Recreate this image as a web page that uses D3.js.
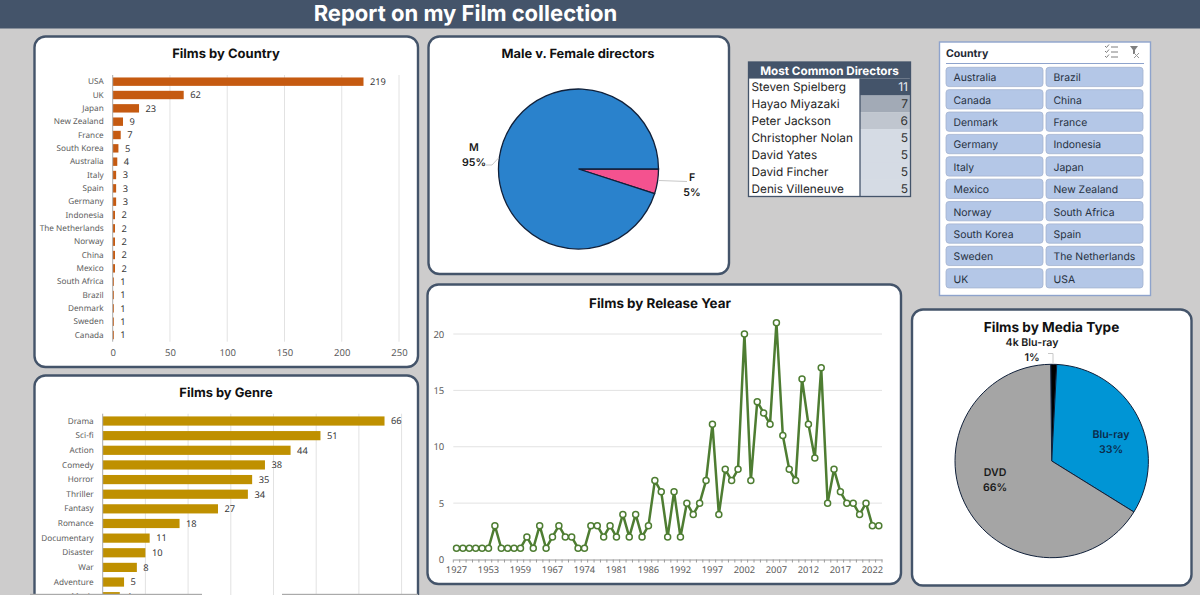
<!DOCTYPE html>
<html><head><meta charset="utf-8">
<script src="https://cdn.jsdelivr.net/npm/d3@7"></script>
<style>
html,body{margin:0;padding:0;background:#cdcccc;overflow:hidden}
svg{display:block;font-family:"Inter","Open Sans",sans-serif}
text{text-rendering:geometricPrecision}
</style></head><body>
<svg id="c" width="1200" height="595"></svg>
<script>
const pageTitle = "Report on my Film collection";
const countryNames = ["USA","UK","Japan","New Zealand","France","South Korea","Australia","Italy","Spain","Germany","Indonesia","The Netherlands","Norway","China","Mexico","South Africa","Brazil","Denmark","Sweden","Canada"];
const countryValues = [219,62,23,9,7,5,4,3,3,3,2,2,2,2,2,1,1,1,1,1];
const countryTicks = [0,50,100,150,200,250];
const genreNames = ["Drama","Sci-fi","Action","Comedy","Horror","Thriller","Fantasy","Romance","Documentary","Disaster","War","Adventure","Music"];
const genreValues = [66,51,44,38,35,34,27,18,11,10,8,5,4];
const genreTicks = [0,10,20,30,40,50,60,70];
const releaseYears = [1927,1931,1939,1940,1942,1953,1954,1955,1956,1957,1959,1960,1961,1963,1964,1967,1968,1969,1971,1972,1974,1975,1976,1977,1979,1981,1982,1983,1984,1985,1986,1987,1988,1989,1990,1992,1993,1994,1995,1996,1997,1998,1999,2000,2001,2002,2003,2004,2005,2006,2007,2008,2009,2010,2011,2012,2013,2014,2015,2016,2017,2018,2019,2020,2021,2022,2023];
const releaseCounts = [1,1,1,1,1,1,3,1,1,1,1,2,1,3,1,2,3,2,2,1,1,3,3,2,3,2,4,2,4,2,3,7,6,2,6,2,5,4,5,7,12,4,8,7,8,20,7,14,13,12,21,11,8,7,16,12,9,17,5,8,6,5,5,4,5,3,3];
const releaseTicks = [0,5,10,15,20];
const genderNames = ["F","M"];
const genderValues = [5,95];
const genderColors = ["#f4528f","#2a82cc"];
const mediaNames = ["4k Blu-ray","Blu-ray","DVD"];
const mediaValues = [1,33,66];
const mediaColors = ["#000000","#0095d5","#a5a5a5"];
const directorNames = ["Steven Spielberg","Hayao Miyazaki","Peter Jackson","Christopher Nolan","David Yates","David Fincher","Denis Villeneuve"];
const directorCounts = [11,7,6,5,5,5,5];
const slicerItems = ["Australia","Brazil","Canada","China","Denmark","France","Germany","Indonesia","Italy","Japan","Mexico","New Zealand","Norway","South Africa","South Korea","Spain","Sweden","The Netherlands","UK","USA"];

const svg = d3.select("#c");
const PANEL = "#44546a", LABEL = "#5c5c5c", VALUE = "#3a3a3a", GRID = "#e2e2e2";
const SMALL = '"Noto Sans",sans-serif';

svg.append("rect").attr("width",1200).attr("height",28.5).attr("fill",PANEL);
svg.append("text").attr("x",465.5).attr("y",20.5).attr("text-anchor","middle").attr("fill","#fff")
  .attr("font-size",22).attr("font-weight",700).text(pageTitle);

function panel(x0,y0,x1,y1,title,tx,ty,fs){
  svg.append("rect").attr("x",x0).attr("y",y0).attr("width",x1-x0).attr("height",y1-y0)
    .attr("rx",11).attr("fill","#fff").attr("stroke",PANEL).attr("stroke-width",2.4);
  svg.append("text").attr("x",tx).attr("y",ty).attr("text-anchor","middle").attr("fill","#111")
    .attr("font-size",fs).attr("font-weight",700).text(title);
}
panel(34.5,36.5,418,367,"Films by Country",226,58,13);
panel(34.5,375.5,418,640,"Films by Genre",226,397,12.9);
panel(428.5,36.5,729,274,"Male v. Female directors",578,58,12.9);
panel(427.5,284.5,901,584,"Films by Release Year",660,308,13.4);
panel(912,309.5,1191.5,585.5,"Films by Media Type",1051.5,332,13.6);

function hbars(names,values,ticks,x0,x1,top,bottom,color,barH,tickY){
  const x = d3.scaleLinear().domain([0,ticks[ticks.length-1]]).range([x0,x1]);
  const y = d3.scaleBand().domain(names).range([top,bottom]);
  const g = svg.append("g");
  g.selectAll("line.g").data(ticks.slice(1)).join("line")
    .attr("x1",d=>x(d)).attr("x2",d=>x(d)).attr("y1",top).attr("y2",bottom)
    .attr("stroke",GRID).attr("stroke-width",1);
  g.selectAll("rect").data(names).join("rect")
    .attr("x",x0).attr("y",d=>y(d)+(y.bandwidth()-barH)/2)
    .attr("width",(d,i)=>x(values[i])-x0).attr("height",barH).attr("fill",color);
  g.append("line").attr("x1",x0).attr("x2",x0).attr("y1",top).attr("y2",bottom).attr("stroke","#aaa");
  const ya = g.append("g").attr("transform",`translate(${x0},0)`).call(d3.axisLeft(y).tickSize(0).tickPadding(9));
  ya.select(".domain").remove();
  ya.selectAll("text").attr("fill",LABEL).attr("font-size",8.2).attr("font-family",SMALL);
  g.selectAll("text.v").data(names).join("text").attr("class","v")
    .attr("x",(d,i)=>x(values[i])+6.5).attr("y",d=>y(d)+y.bandwidth()/2+3.3)
    .attr("fill",VALUE).attr("font-size",9.3).attr("font-family",SMALL).text((d,i)=>values[i]);
  if(tickY){
    const xa = g.append("g").attr("transform",`translate(0,${tickY})`).call(d3.axisBottom(x).tickValues(ticks).tickSize(0));
    xa.select(".domain").remove();
    xa.selectAll("text").attr("fill",LABEL).attr("font-size",9.5).attr("font-family",SMALL);
  }
}
hbars(countryNames,countryValues,countryTicks,112.7,399,75,341.7,"#c55a11",8.4,346);
hbars(genreNames,genreValues,genreTicks,102.7,401.6,413.7,604,"#bf9000",9.2,null);

/* Line chart */
{
  const x = d3.scaleBand().domain(releaseYears).range([453.3,882]);
  const y = d3.scaleLinear().domain([0,20]).range([559.5,334]);
  const cx = d=>x(d)+x.bandwidth()/2;
  const g = svg.append("g");
  g.selectAll("line.g").data(releaseTicks.slice(1)).join("line")
    .attr("x1",453.3).attr("x2",882).attr("y1",d=>y(d)).attr("y2",d=>y(d)).attr("stroke",GRID);
  const ya = g.append("g").attr("transform","translate(453.3,0)").call(d3.axisLeft(y).tickValues(releaseTicks).tickSize(0).tickPadding(9));
  ya.select(".domain").remove();
  ya.selectAll("text").attr("fill",LABEL).attr("font-size",9.5).attr("font-family",SMALL);
  const xa = g.append("g").attr("transform","translate(0,559.5)")
    .call(d3.axisBottom(x).tickValues(releaseYears.filter((d,i)=>i%5===0)).tickSize(0).tickPadding(7));
  xa.select(".domain").attr("stroke","#9a9a9a");
  xa.selectAll("text").attr("fill",LABEL).attr("font-size",9.3).attr("font-family",SMALL);
  g.selectAll("line.t").data(releaseYears).join("line").attr("class","t")
    .attr("x1",d=>x(d)).attr("x2",d=>x(d)).attr("y1",559.5).attr("y2",562.5).attr("stroke","#9a9a9a");
  g.append("line").attr("x1",882).attr("x2",882).attr("y1",559.5).attr("y2",562.5).attr("stroke","#9a9a9a");
  const line = d3.line().x(d=>cx(d[0])).y(d=>y(d[1]));
  const pts = releaseYears.map((d,i)=>[d,releaseCounts[i]]);
  g.append("path").attr("d",line(pts)).attr("fill","none").attr("stroke","#4e7d32").attr("stroke-width",2.5).attr("stroke-linejoin","round");
  g.selectAll("circle").data(pts).join("circle").attr("cx",d=>cx(d[0])).attr("cy",d=>y(d[1])).attr("r",3)
    .attr("fill","#fff").attr("stroke","#4e7d32").attr("stroke-width",1.5);
}

/* Pies */
function pie(names,values,colors,cx,cy,r,start,sw){
  const arcs = d3.pie().sort(null).startAngle(start).endAngle(start+2*Math.PI)(values);
  const arc = d3.arc().innerRadius(0).outerRadius(r);
  const g = svg.append("g").attr("transform",`translate(${cx},${cy})`);
  g.selectAll("path").data(arcs).join("path").attr("d",arc).attr("fill",(d,i)=>colors[i]).attr("stroke","#10203a").attr("stroke-width",sw);
  return arcs;
}
function label(x,y,a,b,fill){
  const t = svg.append("text").attr("text-anchor","middle").attr("font-size",10.6).attr("font-weight",600).attr("fill",fill||"#1a1a1a");
  t.append("tspan").attr("x",x).attr("y",y).text(a);
  t.append("tspan").attr("x",x).attr("y",y+14.5).text(b);
}
pie(genderNames,genderValues,genderColors,578.5,169,80,Math.PI/2,1.3);
label(474,151,genderNames[1],genderValues[1]+"%");
label(692,181,genderNames[0],genderValues[0]+"%");
const leader = d=>svg.append("path").attr("d",d3.line()(d)).attr("fill","none").attr("stroke","#c8c8c8").attr("stroke-width",1);
leader([[486,165],[492,165],[498.5,158]]);
leader([[659,180.5],[687,181.5]]);
pie(mediaNames,mediaValues,mediaColors,1051.7,461,96.7,-0.6*Math.PI/180,1);
label(1032,346,mediaNames[0],mediaValues[0]+"%");
label(1111,438,mediaNames[1],mediaValues[1]+"%","#0c2a4a");
label(995,476,mediaNames[2],mediaValues[2]+"%");
leader([[1048,353.5],[1053,353.5],[1053,363]]);

/* Directors table */
{
  const x0=748.5,x1=910.5,top=62,headH=16.5,mid=860;
  const y = d3.scaleBand().domain(directorNames).range([top+headH,196.5]);
  const col = d3.scaleOrdinal().domain([11,7,6,5]).range(["#44546a","#a2aab6","#c0c6cf","#d5dbe4"]);
  svg.append("rect").attr("x",x0).attr("y",y.range()[0]).attr("width",x1-x0).attr("height",y.range()[1]-y.range()[0]).attr("fill","#fff");
  svg.selectAll("rect.d").data(directorNames).join("rect").attr("class","d").attr("x",mid).attr("width",x1-mid)
    .attr("y",d=>y(d)).attr("height",y.bandwidth()+.3).attr("fill",(d,i)=>col(directorCounts[i]));
  svg.append("rect").attr("x",x0).attr("y",top).attr("width",x1-x0).attr("height",headH).attr("fill",PANEL);
  svg.append("text").attr("x",(x0+x1)/2).attr("y",top+12.6).attr("text-anchor","middle").attr("fill","#fff")
    .attr("font-size",11.7).attr("font-weight",700).text("Most Common Directors");
  svg.selectAll("text.n").data(directorNames).join("text").attr("class","n").attr("x",x0+3).attr("y",d=>y(d)+y.bandwidth()/2+4.5)
    .attr("font-size",11.8).attr("fill","#1e1e1e").text(d=>d);
  svg.selectAll("text.c").data(directorNames).join("text").attr("class","c").attr("x",x1-2.5).attr("y",d=>y(d)+y.bandwidth()/2+4.5)
    .attr("text-anchor","end").attr("font-size",12).attr("fill",(d,i)=>directorCounts[i]===11?"#e8ecf2":"#333").text((d,i)=>directorCounts[i]);
  svg.append("rect").attr("x",x0).attr("y",top).attr("width",x1-x0).attr("height",196.5-top).attr("fill","none").attr("stroke",PANEL).attr("stroke-width",1.3);
  svg.append("line").attr("x1",mid).attr("x2",mid).attr("y1",top+headH).attr("y2",196.5).attr("stroke",PANEL).attr("stroke-width",1.3);
}

/* Slicer */
{
  svg.append("rect").attr("x",939.5).attr("y",42).attr("width",211).attr("height",253.5).attr("fill","#fff").attr("stroke","#8ea3cc").attr("stroke-width",1.4);
  svg.append("text").attr("x",946).attr("y",57).attr("font-size",10.6).attr("font-weight",700).attr("fill","#1f2a36").text("Country");
  svg.append("line").attr("x1",946).attr("x2",1144).attr("y1",63.5).attr("y2",63.5).attr("stroke","#8ea3cc").attr("stroke-width",1);
  const col = d3.scaleBand().domain([0,1]).range([946,1146]);
  const rows = d3.range(Math.ceil(slicerItems.length/2));
  const row = d3.scaleBand().domain(rows).range([67.3,291]);
  const bs = svg.selectAll("g.b").data(slicerItems).join("g").attr("class","b")
    .attr("transform",(d,i)=>`translate(${col(i%2)},${row(Math.floor(i/2))})`);
  bs.append("rect").attr("width",97).attr("height",19.3).attr("rx",3).attr("fill","#b4c7e7").attr("stroke","#a3b3cf").attr("stroke-width",.8);
  bs.append("text").attr("x",7.5).attr("y",14).attr("font-size",10.4).attr("fill","#26313f").text(d=>d);
  /* icons */
  const ic = svg.append("g").attr("stroke","#7f7f7f").attr("fill","none").attr("stroke-width",1);
  [47,52,57].forEach(yy=>{
    ic.append("line").attr("x1",1111).attr("x2",1118).attr("y1",yy).attr("y2",yy);
    ic.append("path").attr("d",`M1105 ${yy-1}l1.5 1.5l2.5 -3`);
  });
  svg.append("path").attr("d","M1130 46h8l-3 4v4h-2v-4z").attr("fill","#7f7f7f");
  svg.append("path").attr("d","M1134 53l5 5M1139 53l-5 5").attr("stroke","#999").attr("fill","none");
}

/* Bottom sliver of the capture */
svg.append("rect").attr("x",30).attr("y",593.8).attr("width",172).attr("height",1.2).attr("fill","#aaa");
svg.append("rect").attr("x",282).attr("y",593.8).attr("width",136).attr("height",1.2).attr("fill","#aaa");
</script>
</body></html>
